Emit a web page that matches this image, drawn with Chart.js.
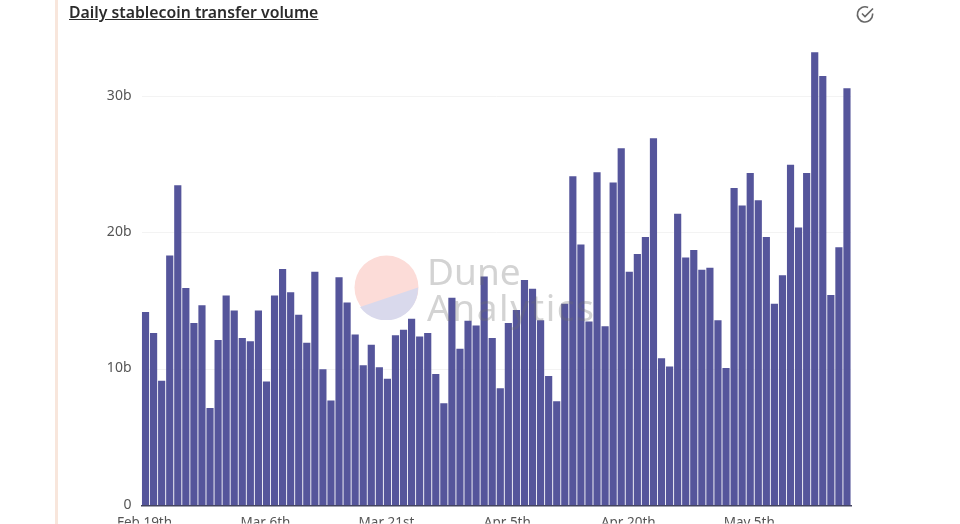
<!DOCTYPE html>
<html>
<head>
<meta charset="utf-8">
<script src="https://cdn.jsdelivr.net/npm/chart.js@4"></script>
<style>
  html, body { margin: 0; padding: 0; background: #fff; width: 960px; height: 524px; overflow: hidden; }
  #myChart { position: absolute; left: 0; top: 0; }
  #edge { position: absolute; left: 55px; top: 0; width: 2.5px; height: 524px; background: #f8e6dc; }
  #title { position: absolute; left: 69px; top: 1px; font: 600 15.8px "Noto Sans", sans-serif; color: #2b2b2b; text-decoration: underline; white-space: nowrap; }
  #check { position: absolute; left: 855px; top: 4px; }
  #logo { position: absolute; left: 354px; top: 255px; }
  .mark { position: absolute; left: 427px; font: 400 37px "Noto Sans", sans-serif; color: rgba(110, 110, 110, 0.3); white-space: nowrap; }
</style>
</head>
<body>
<canvas id="myChart" width="960" height="524"></canvas>
<div id="edge"></div>
<div id="title">Daily stablecoin transfer volume</div>
<svg id="check" width="21" height="21" viewBox="0 0 21 21" fill="none" stroke="#666" stroke-width="1.6">
  <path d="M17.6 9.5v1a7.6 7.6 0 1 1-4.5-7"/>
  <path d="M7 9.5l3 3 8-8"/>
</svg>
<svg id="logo" width="65" height="65" viewBox="0 0 65 65">
  <circle cx="32.5" cy="32.5" r="32" fill="#fcdcd8"/>
  <path d="M6 52 L64 32.5 A32 32 0 0 1 6 52 Z" fill="#d9d9ec"/>
</svg>
<div class="mark" style="top:245px">Dune</div>
<div class="mark" style="top:281px;letter-spacing:1.6px">Analytics</div>
<script>
var days = [
  'Feb 19th','Feb 20th','Feb 21st','Feb 22nd','Feb 23rd','Feb 24th','Feb 25th','Feb 26th','Feb 27th','Feb 28th',
  'Mar 1st','Mar 2nd','Mar 3rd','Mar 4th','Mar 5th','Mar 6th','Mar 7th','Mar 8th','Mar 9th','Mar 10th',
  'Mar 11th','Mar 12th','Mar 13th','Mar 14th','Mar 15th','Mar 16th','Mar 17th','Mar 18th','Mar 19th','Mar 20th',
  'Mar 21st','Mar 22nd','Mar 23rd','Mar 24th','Mar 25th','Mar 26th','Mar 27th','Mar 28th','Mar 29th','Mar 30th',
  'Mar 31st','Apr 1st','Apr 2nd','Apr 3rd','Apr 4th','Apr 5th','Apr 6th','Apr 7th','Apr 8th','Apr 9th',
  'Apr 10th','Apr 11th','Apr 12th','Apr 13th','Apr 14th','Apr 15th','Apr 16th','Apr 17th','Apr 18th','Apr 19th',
  'Apr 20th','Apr 21st','Apr 22nd','Apr 23rd','Apr 24th','Apr 25th','Apr 26th','Apr 27th','Apr 28th','Apr 29th',
  'Apr 30th','May 1st','May 2nd','May 3rd','May 4th','May 5th','May 6th','May 7th','May 8th','May 9th',
  'May 10th','May 11th','May 12th','May 13th','May 14th','May 15th','May 16th','May 17th'
];

// billions
var volume = [
  14.2, 12.65, 9.15, 18.35, 23.5, 15.95, 13.4, 14.7, 7.15, 12.15,
  15.4, 14.3, 12.3, 12.05, 14.3, 9.1, 15.4, 17.35, 15.65, 14.0,
  11.95, 17.15, 10.0, 7.7, 16.75, 14.9, 12.55, 10.3, 11.8, 10.15,
  9.3, 12.5, 12.9, 13.7, 12.4, 12.65, 9.65, 7.5, 15.25, 11.5,
  13.55, 13.2, 16.8, 12.3, 8.6, 13.4, 14.35, 16.55, 15.9, 13.6,
  9.5, 7.65, 14.8, 24.15, 19.15, 13.5, 24.45, 13.15, 23.7, 26.2,
  17.15, 18.45, 19.7, 26.95, 10.8, 10.2, 21.4, 18.2, 18.75, 17.3,
  17.45, 13.6, 10.1, 23.3, 22.0, 24.4, 22.4, 19.7, 14.8, 16.9,
  25.0, 20.4, 24.4, 33.25, 31.5, 15.45, 18.95, 30.6
];

var shownDays = ['Feb 19th', 'Mar 6th', 'Mar 21st', 'Apr 5th', 'Apr 20th', 'May 5th'];

var ctx = document.getElementById('myChart');

var myChart = new Chart(ctx, {
  type: 'bar',
  data: {
    labels: days,
    datasets: [{
      label: 'Daily stablecoin transfer volume',
      data: volume,
      backgroundColor: '#55559b',
      barPercentage: 0.89,
      categoryPercentage: 1
    }]
  },
  options: {
    responsive: false,
    animation: false,
    layout: { padding: { top: 42, right: 109, bottom: 0, left: 0 } },
    plugins: { legend: { display: false }, tooltip: { enabled: false } },
    scales: {
      x: {
        afterFit: function (scale) { scale.height = 18; },
        grid: { display: false },
        border: { color: '#44445f', width: 1.5 },
        ticks: {
          autoSkip: false,
          maxRotation: 0,
          padding: 1,
          labelOffset: -1,
          color: '#555',
          font: { family: 'Noto Sans', size: 13.5 },
          callback: function (value) {
            var day = this.getLabelForValue(value);
            return shownDays.indexOf(day) >= 0 ? day : '';
          }
        }
      },
      y: {
        min: 0,
        max: 34,
        afterFit: function (scale) { scale.width = 141.5; },
        grid: { color: '#f3f3f3', drawTicks: false },
        border: { display: false },
        ticks: {
          stepSize: 10,
          includeBounds: false,
          padding: 10,
          labelOffset: -1,
          color: '#555',
          font: { family: 'Noto Sans', size: 14 },
          callback: function (value) { return value === 0 ? '0' : value + 'b'; }
        }
      }
    }
  }
});
</script>
</body>
</html>
